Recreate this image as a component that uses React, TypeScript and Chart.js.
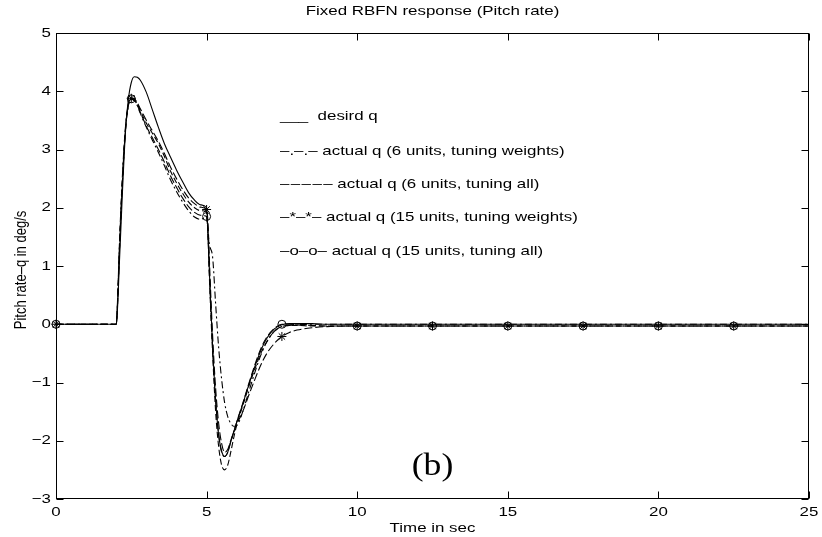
import React, { useEffect, useRef } from "react";
import { Chart, registerables } from "chart.js";

Chart.register(...registerables);

// ---------------- data ----------------
const TIME = [0, 1, 2, 2.05, 2.1, 2.2, 2.3, 2.4, 2.5, 2.6, 2.7, 2.8, 3.0, 3.2, 3.4, 3.6, 3.8, 4.0, 4.2, 4.4, 4.6, 4.8, 5.0, 5.05, 5.1, 5.2, 5.3, 5.4, 5.5, 5.6, 5.7, 5.8, 5.9, 6.0, 6.2, 6.4, 6.6, 6.8, 7.0, 7.25, 7.5, 7.75, 8.0, 8.5, 9.0, 10, 12.5, 15, 17.5, 20, 22.5, 25];

const DESIRED_Q = [0, 0, 0, 0.35, 1.0, 2.2, 3.25, 3.85, 4.15, 4.25, 4.24, 4.19, 3.98, 3.68, 3.38, 3.1, 2.87, 2.65, 2.45, 2.26, 2.13, 2.05, 2.0, 1.5, 0.8, -0.4, -1.3, -1.9, -2.18, -2.27, -2.2, -2.02, -1.85, -1.68, -1.37, -1.04, -0.73, -0.45, -0.24, -0.08, -0.01, 0.01, 0.01, 0.01, 0, 0, 0, 0, 0, 0, 0, 0];

const Q_6_WEIGHTS = [0, 0, 0, 0.45, 1.2, 2.4, 3.3, 3.75, 3.86, 3.85, 3.75, 3.62, 3.38, 3.16, 2.95, 2.72, 2.48, 2.28, 2.1, 1.95, 1.84, 1.8, 1.84, 1.55, 1.35, 1.15, 0.35, -0.4, -0.95, -1.35, -1.58, -1.7, -1.75, -1.74, -1.5, -1.16, -0.83, -0.53, -0.3, -0.12, -0.04, -0.02, -0.01, 0, 0, 0, 0, 0, 0, 0, 0, 0];

const Q_6_ALL = [0, 0, 0, 0.5, 1.3, 2.5, 3.35, 3.77, 3.87, 3.86, 3.78, 3.67, 3.45, 3.28, 3.1, 2.88, 2.63, 2.43, 2.25, 2.1, 2.0, 1.95, 1.93, 1.45, 0.7, -0.5, -1.5, -2.1, -2.42, -2.5, -2.42, -2.2, -1.95, -1.73, -1.4, -1.07, -0.77, -0.5, -0.3, -0.12, -0.04, -0.02, -0.02, -0.03, -0.03, -0.03, -0.03, -0.03, -0.03, -0.03, -0.03, -0.03];

const Q_15_WEIGHTS = [0, 0, 0, 0.45, 1.2, 2.4, 3.3, 3.76, 3.88, 3.87, 3.8, 3.7, 3.5, 3.32, 3.14, 2.93, 2.7, 2.5, 2.32, 2.17, 2.07, 2.01, 1.97, 1.7, 1.0, -0.2, -1.1, -1.7, -2.05, -2.2, -2.15, -2.0, -1.85, -1.72, -1.5, -1.22, -0.95, -0.7, -0.5, -0.33, -0.21, -0.14, -0.1, -0.06, -0.04, -0.03, -0.03, -0.03, -0.03, -0.03, -0.03, -0.03];

const Q_15_ALL = [0, 0, 0, 0.45, 1.2, 2.4, 3.3, 3.75, 3.87, 3.85, 3.76, 3.64, 3.4, 3.2, 3.0, 2.78, 2.55, 2.35, 2.17, 2.02, 1.92, 1.87, 1.85, 1.5, 0.8, -0.4, -1.3, -1.9, -2.2, -2.27, -2.2, -2.02, -1.85, -1.68, -1.36, -1.02, -0.7, -0.42, -0.22, -0.07, 0.0, 0.0, -0.01, -0.02, -0.03, -0.03, -0.03, -0.03, -0.03, -0.03, -0.03, -0.03];

const MARKER_TIMES = [0, 2.5, 5, 7.5, 10, 12.5, 15, 17.5, 20, 22.5];

const X_MIN = 0;
const X_MAX = 25;
const X_STEP = 5;
const Y_MIN = -3;
const Y_MAX = 5;
const Y_STEP = 1;

const TITLE = "Fixed RBFN response (Pitch rate)";
const X_LABEL = "Time in sec";
const Y_LABEL = "Pitch rate\u2013q in deg/s";
const PANEL_LABEL = "(b)";
const PANEL_POS = [12.5, -2.45];

const LEGEND_LINES = [
  "___  desird q",
  "\u2013.\u2013.\u2013 actual q (6 units, tuning weights)",
  "\u2013\u200a\u2013\u200a\u2013\u200a\u2013\u200a\u2013 actual q (6 units, tuning all)",
  "\u2013*\u2013*\u2013 actual q (15 units, tuning weights)",
  "\u2013o\u2013o\u2013 actual q (15 units, tuning all)",
];

// ---------------- drawing helpers ----------------
const SANS = '"Liberation Sans", Arial, Helvetica, sans-serif';
const SX = 1.3;

function stretchedText(
  ctx: CanvasRenderingContext2D,
  text: string,
  x: number,
  y: number,
  align: CanvasTextAlign,
  font: string,
  sx: number = SX
) {
  ctx.save();
  ctx.translate(x, y);
  ctx.scale(sx, 1);
  ctx.font = font;
  ctx.textAlign = align;
  ctx.textBaseline = "middle";
  ctx.fillStyle = "#000";
  ctx.fillText(text, 0, 0);
  ctx.restore();
}

const fmt = (v: number) => (v < 0 ? "\u2212" + Math.abs(v) : String(v));

const overlayPlugin = {
  id: "matlabOverlay",
  afterDatasetsDraw(chart: any) {
    const { ctx, chartArea: a, scales } = chart;
    const xs = scales.x;
    const ys = scales.y;
    ctx.save();
    ctx.strokeStyle = "#000";
    ctx.lineWidth = 1;
    const L = Math.round(a.left) + 0.5;
    const R = Math.round(a.right) - 0.5;
    const T = Math.round(a.top) + 0.5;
    const B = Math.round(a.bottom) - 0.5;
    ctx.strokeRect(L, T, R - L, B - T);
    const TL = 7;
    ctx.beginPath();
    xs.ticks.forEach((tk: any) => {
      const px = Math.round(xs.getPixelForValue(tk.value)) + 0.5;
      ctx.moveTo(px, B);
      ctx.lineTo(px, B - TL);
      ctx.moveTo(px, T);
      ctx.lineTo(px, T + TL);
    });
    ys.ticks.forEach((tk: any) => {
      const py = Math.round(ys.getPixelForValue(tk.value)) + 0.5;
      ctx.moveTo(L, py);
      ctx.lineTo(L + TL, py);
      ctx.moveTo(R, py);
      ctx.lineTo(R - TL, py);
    });
    ctx.stroke();
    ctx.restore();

    const tickFont = `13px ${SANS}`;
    xs.ticks.forEach((tk: any) => {
      stretchedText(ctx, fmt(tk.value), xs.getPixelForValue(tk.value), a.bottom + 13, "center", tickFont);
    });
    ys.ticks.forEach((tk: any) => {
      stretchedText(ctx, fmt(tk.value), a.left - 5, ys.getPixelForValue(tk.value), "right", tickFont);
    });

    const cx = (a.left + a.right) / 2;
    stretchedText(ctx, TITLE, cx, 11, "center", `13px ${SANS}`);
    stretchedText(ctx, X_LABEL, cx, a.bottom + 29, "center", `13px ${SANS}`);

    // y label (rotated)
    ctx.save();
    ctx.translate(21, (a.top + a.bottom) / 2 + 4);
    ctx.scale(SX, 1);
    ctx.rotate(-Math.PI / 2);
    ctx.font = `13px ${SANS}`;
    ctx.textAlign = "center";
    ctx.textBaseline = "middle";
    ctx.fillStyle = "#000";
    ctx.fillText(Y_LABEL, 0, 0);
    ctx.restore();

    // legend text block
    const legendY = [116, 151, 184, 217, 251];
    LEGEND_LINES.forEach((line, i) => {
      stretchedText(ctx, line, 280, legendY[i], "left", `13px ${SANS}`);
    });

    // panel label
    stretchedText(
      ctx,
      PANEL_LABEL,
      xs.getPixelForValue(PANEL_POS[0]),
      ys.getPixelForValue(PANEL_POS[1]),
      "center",
      `31px "Liberation Serif", "Times New Roman", serif`,
      1.15
    );
  },
};

function series(values: number[]) {
  return TIME.map((t, i) => ({ x: t, y: values[i] }));
}

const markerRadius = (r: number) => (c: any) =>
  MARKER_TIMES.includes(TIME[c.dataIndex]) ? r : 0;

export default function App() {
  const canvasRef = useRef<HTMLCanvasElement | null>(null);

  useEffect(() => {
    const canvas = canvasRef.current;
    if (!canvas) return;
    const common = {
      borderColor: "#000",
      borderWidth: 1.1,
      fill: false,
      cubicInterpolationMode: "monotone" as const,
      pointBorderColor: "#000",
      pointBackgroundColor: "rgba(0,0,0,0)",
      pointBorderWidth: 1,
      clip: false as any,
    };
    const chart = new Chart(canvas, {
      type: "line",
      data: {
        datasets: [
          { ...common, label: "desird q", data: series(DESIRED_Q), pointRadius: 0 },
          { ...common, label: "actual q (6 units, tuning weights)", data: series(Q_6_WEIGHTS), pointRadius: 0, borderDash: [7, 3, 2, 3] },
          { ...common, label: "actual q (6 units, tuning all)", data: series(Q_6_ALL), pointRadius: 0, borderDash: [6, 3] },
          { ...common, label: "actual q (15 units, tuning weights)", data: series(Q_15_WEIGHTS), pointStyle: "star", pointRadius: markerRadius(4.5), borderDash: [8, 3] },
          { ...common, label: "actual q (15 units, tuning all)", data: series(Q_15_ALL), pointStyle: "circle", pointRadius: markerRadius(4), borderDash: [8, 3] },
        ],
      },
      options: {
        responsive: false,
        maintainAspectRatio: false,
        animation: false,
        devicePixelRatio: 1,
        layout: { padding: { top: 33, right: 13, left: 0, bottom: 0 } },
        plugins: {
          legend: { display: false },
          title: { display: false },
          tooltip: { enabled: false },
        },
        scales: {
          x: {
            type: "linear",
            min: X_MIN,
            max: X_MAX,
            ticks: { display: false, stepSize: X_STEP },
            grid: { display: false, drawTicks: false },
            border: { display: false },
            afterFit: (s: any) => {
              s.height = 38;
            },
          },
          y: {
            type: "linear",
            min: Y_MIN,
            max: Y_MAX,
            ticks: { display: false, stepSize: Y_STEP },
            grid: { display: false, drawTicks: false },
            border: { display: false },
            afterFit: (s: any) => {
              s.width = 56;
            },
          },
        },
      } as any,
      plugins: [overlayPlugin],
    });
    return () => chart.destroy();
  }, []);

  return (
    <div style={{ position: "fixed", left: 0, top: 0, width: 822, height: 537, background: "#fff" }}>
      <canvas ref={canvasRef} width={822} height={537} style={{ display: "block", width: 822, height: 537 }} />
    </div>
  );
}
